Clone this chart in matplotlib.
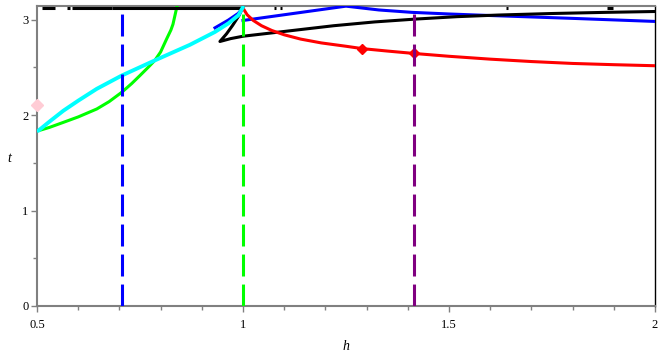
import numpy as np
import matplotlib
matplotlib.use('Agg')
import matplotlib.pyplot as plt
from matplotlib.ticker import MultipleLocator

# --- data ---
green_h = [0.503, 0.53, 0.564, 0.6, 0.645, 0.675, 0.706, 0.73, 0.75, 0.77, 0.786,
           0.80, 0.815, 0.825, 0.83, 0.84]
green_t = [1.835, 1.87, 1.923, 1.98, 2.063, 2.14, 2.239, 2.33, 2.414, 2.50, 2.572,
           2.66, 2.80, 2.89, 2.95, 3.1416]

cyan_h = [0.503, 0.53, 0.564, 0.6, 0.645, 0.706, 0.786, 0.871, 0.932, 0.964, 0.989, 1.0]
cyan_t = [1.835, 1.93, 2.045, 2.15, 2.274, 2.414, 2.572, 2.735, 2.87, 2.958, 3.045, 3.13]

blue_low_h = [0.932, 0.964, 0.988, 1.0]
blue_low_t = [2.913, 2.993, 3.063, 3.12]
blue_h = [1.0, 1.25, 1.33, 1.41, 1.5, 1.58, 1.7, 1.8, 1.9, 2.0]
blue_t = [2.99, 3.14, 3.10, 3.075, 3.058, 3.045, 3.027, 3.012, 2.996, 2.98]

black_h = [1.0, 0.99, 0.975, 0.96, 0.944, 0.97, 1.0, 1.06, 1.13, 1.22, 1.32, 1.42,
           1.52, 1.62, 1.75, 1.88, 2.0]
black_t = [3.13, 3.04, 2.94, 2.85, 2.77, 2.80, 2.825, 2.855, 2.89, 2.935, 2.975, 3.005,
           3.03, 3.047, 3.063, 3.075, 3.084]

red_h = [1.0, 1.01, 1.025, 1.045, 1.07, 1.1, 1.14, 1.19, 1.25, 1.29, 1.35, 1.414,
         1.5, 1.6, 1.7, 1.8, 1.9, 2.0]
red_t = [3.12, 3.05, 2.99, 2.935, 2.885, 2.84, 2.795, 2.755, 2.72, 2.695, 2.67, 2.645,
         2.615, 2.585, 2.56, 2.54, 2.527, 2.516]

red_pts_h = [1.29, 1.414]
red_pts_t = [2.695, 2.645]
pink_pt = (0.5, 2.1)

# black bits hugging the top edge (t = pi)
top_segments = [(0.512, 0.544), (0.573, 0.580), (0.585, 0.682), (0.682, 1.0),
                (1.075, 1.08), (1.09, 1.095), (1.638, 1.644), (1.884, 1.898)]
top_t = 3.125

# vertical dashed lines
vlines_h = [1 / np.sqrt(2), 1.0, np.sqrt(2)]
vlines_col = ['#0000ff', '#00ff00', '#800080']
vline_top = 3.08

plt.rcParams['lines.scale_dashes'] = False
plt.rcParams['font.family'] = ['Liberation Serif', 'DejaVu Serif']

fig = plt.figure(figsize=(6.64, 3.53), dpi=100)
ax = fig.add_axes([37 / 664, 47 / 353, 618 / 664, 300 / 353])

lw = 2.2
ax.plot(green_h, green_t, color='#00ff00', lw=lw, solid_capstyle='round', zorder=3)
ax.plot(blue_low_h, blue_low_t, color='#0000ff', lw=lw, zorder=3)
ax.plot(blue_h, blue_t, color='#0000ff', lw=lw, zorder=3)
ax.plot(black_h, black_t, color='black', lw=lw, zorder=3)
ax.plot(red_h, red_t, color='#ff0000', lw=lw, zorder=4)
ax.plot(cyan_h, cyan_t, color='#00ffff', lw=2.8, solid_capstyle='round', zorder=4)
ax.plot(red_pts_h, red_pts_t, 'D', color='#ff0000', ms=5.5, zorder=5)
ax.plot(*pink_pt, 'D', color='#ffccd5', ms=6, clip_on=False, zorder=5)

for a, b in top_segments:
    ax.plot([a, b], [top_t, top_t], color='black', lw=2.2, solid_capstyle='butt', zorder=3)

for x, c in zip(vlines_h, vlines_col):
    ax.plot([x, x], [0, vline_top], color=c, lw=2.2, dashes=(15.8, 5.8), zorder=6)

# --- axes formatting ---
ax.set_xlim(0.5, 2)
ax.set_ylim(0, np.pi)
ax.xaxis.set_major_locator(MultipleLocator(0.5))
ax.xaxis.set_minor_locator(MultipleLocator(0.1))
ax.yaxis.set_major_locator(MultipleLocator(1))
ax.yaxis.set_minor_locator(MultipleLocator(0.5))
ax.xaxis.set_major_formatter(plt.FuncFormatter(lambda v, p: f'{v:g}'))
ax.yaxis.set_major_formatter(plt.FuncFormatter(lambda v, p: f'{v:g}'))

ax.tick_params(which='both', direction='out', colors='#808080', labelcolor='black',
               labelsize=9, pad=2)
ax.tick_params(which='major', length=4, width=1)
ax.tick_params(which='minor', length=3, width=1)
ax.tick_params(axis='x', pad=5)

for s in ['left', 'bottom', 'top']:
    ax.spines[s].set_color('#808080')
    ax.spines[s].set_linewidth(1.5)
ax.spines['right'].set_color('black')
ax.spines['right'].set_linewidth(1.0)

ax.set_xlabel('h', fontsize=10, style='italic')
ax.set_ylabel('t', fontsize=10, style='italic', rotation=0, va='center')
ax.xaxis.set_label_coords(0.5, -0.113)
ax.yaxis.set_label_coords(-0.044, 0.49)

fig.savefig('out.png', dpi=100)
